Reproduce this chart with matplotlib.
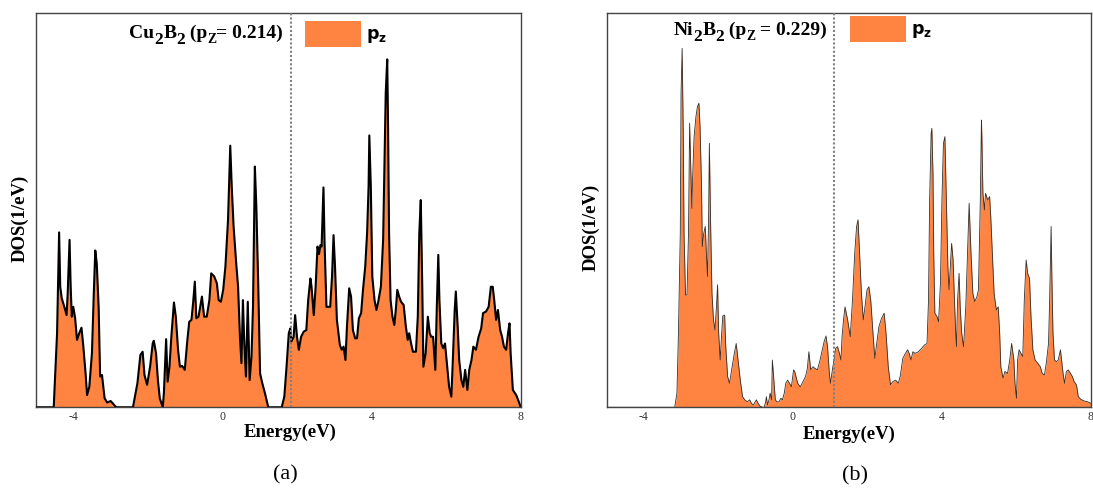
import matplotlib
matplotlib.use("Agg")
import matplotlib.pyplot as plt
from matplotlib.patches import Patch

plt.rcParams['mathtext.fontset'] = 'custom'
plt.rcParams['mathtext.rm'] = 'DejaVu Sans:bold'
plt.rcParams['mathtext.bf'] = 'DejaVu Sans:bold'
plt.rcParams['mathtext.sf'] = 'DejaVu Sans:bold'

# ---------------- data ----------------
cu_energy = [
    -5.0, -4.525, -4.435, -4.38, -4.35, -4.31, -4.24, -4.18, -4.15, -4.10,
    -4.07, -4.04, -4.00, -3.95, -3.90, -3.84, -3.78, -3.73, -3.67, -3.63,
    -3.57, -3.50, -3.45, -3.41, -3.37, -3.32, -3.28, -3.23, -3.16, -3.09,
    -3.00, -2.94, -2.85, -2.40, -2.28, -2.20, -2.14, -2.09, -2.02, -1.94,
    -1.87, -1.84, -1.78, -1.73, -1.68, -1.60, -1.57, -1.51, -1.47, -1.42,
    -1.37, -1.30, -1.25, -1.19, -1.14, -1.08, -1.01, -0.94, -0.89, -0.83,
    -0.78, -0.74, -0.70, -0.64, -0.58, -0.55, -0.49, -0.42, -0.35, -0.30,
    -0.22, -0.15, -0.10, -0.04, 0.02, 0.08, 0.15, 0.21, 0.25, 0.30,
    0.37, 0.42, 0.47, 0.51, 0.55, 0.58, 0.63, 0.68, 0.73, 0.78,
    0.82, 0.87, 0.91, 0.96, 1.01, 1.07, 1.14, 1.23, 1.59, 1.66,
    1.72, 1.78, 1.82, 1.85, 1.91, 1.95, 2.00, 2.05, 2.11, 2.18,
    2.25, 2.30, 2.36, 2.39, 2.45, 2.50, 2.55, 2.59, 2.63, 2.66,
    2.71, 2.74, 2.79, 2.84, 2.89, 2.94, 2.98, 3.02, 3.07, 3.15,
    3.20, 3.25, 3.30, 3.34, 3.40, 3.45, 3.50, 3.56, 3.61, 3.66,
    3.72, 3.77, 3.83, 3.88, 3.92, 3.94, 3.98, 4.02, 4.08, 4.13,
    4.18, 4.25, 4.31, 4.35, 4.38, 4.42, 4.44, 4.47, 4.51, 4.56,
    4.61, 4.65, 4.69, 4.74, 4.79, 4.86, 4.92, 4.97, 5.01, 5.06,
    5.11, 5.19, 5.24, 5.28, 5.32, 5.36, 5.39, 5.45, 5.51, 5.56,
    5.60, 5.65, 5.71, 5.75, 5.79, 5.82, 5.87, 5.92, 5.97, 6.03,
    6.08, 6.14, 6.18, 6.23, 6.26, 6.31, 6.35, 6.41, 6.46, 6.51,
    6.57, 6.62, 6.68, 6.73, 6.80, 6.87, 6.94, 6.99, 7.07, 7.14,
    7.20, 7.25, 7.29, 7.34, 7.39, 7.45, 7.50, 7.55, 7.61, 7.66,
    7.70, 7.73, 7.79, 7.88, 7.95, 8.0,
]
cu_dos = [
    0, 0, 0.188, 0.444, 0.306, 0.277, 0.255, 0.234, 0.289, 0.425,
    0.306, 0.230, 0.255, 0.226, 0.171, 0.188, 0.202, 0.154, 0.086, 0.031,
    0.052, 0.137, 0.289, 0.398, 0.365, 0.255, 0.078, 0.082, 0.023, 0.012,
    0.016, 0.010, 0, 0, 0.061, 0.133, 0.141, 0.082, 0.057, 0.103,
    0.162, 0.169, 0.137, 0.069, 0.023, 0, 0.036, 0.173, 0.065, 0.103,
    0.179, 0.266, 0.230, 0.146, 0.103, 0.105, 0.095, 0.171, 0.217, 0.222,
    0.272, 0.319, 0.226, 0.230, 0.264, 0.281, 0.230, 0.230, 0.272, 0.340,
    0.332, 0.315, 0.272, 0.268, 0.298, 0.357, 0.475, 0.664, 0.560, 0.459,
    0.365, 0.306, 0.179, 0.112, 0.272, 0.179, 0.078, 0.268, 0.069, 0.129,
    0.255, 0.611, 0.509, 0.315, 0.086, 0.061, 0.036, 0, 0, 0.027,
    0.103, 0.188, 0.200, 0.167, 0.179, 0.234, 0.179, 0.146, 0.179, 0.192,
    0.196, 0.272, 0.327, 0.306, 0.234, 0.306, 0.408, 0.389, 0.412, 0.408,
    0.558, 0.416, 0.255, 0.255, 0.255, 0.332, 0.437, 0.357, 0.222, 0.158,
    0.146, 0.154, 0.120, 0.205, 0.302, 0.281, 0.196, 0.175, 0.175, 0.226,
    0.239, 0.298, 0.357, 0.442, 0.560, 0.690, 0.560, 0.332, 0.272, 0.247,
    0.268, 0.306, 0.425, 0.636, 0.797, 0.883, 0.738, 0.442, 0.272, 0.230,
    0.209, 0.247, 0.298, 0.281, 0.268, 0.260, 0.205, 0.171, 0.188, 0.162,
    0.141, 0.141, 0.230, 0.442, 0.526, 0.306, 0.103, 0.137, 0.230, 0.188,
    0.179, 0.179, 0.095, 0.255, 0.387, 0.272, 0.162, 0.150, 0.162, 0.103,
    0.052, 0.027, 0.120, 0.247, 0.294, 0.205, 0.120, 0.069, 0.052, 0.095,
    0.044, 0.095, 0.120, 0.154, 0.146, 0.179, 0.200, 0.239, 0.243, 0.255,
    0.306, 0.306, 0.272, 0.222, 0.247, 0.196, 0.179, 0.154, 0.146, 0.188,
    0.213, 0.137, 0.044, 0.031, 0.014, 0,
]

ni_energy = [
    -5.0, -3.17, -3.11, -3.07, -3.02, -3.00, -2.97, -2.94, -2.92, -2.88,
    -2.84, -2.80, -2.77, -2.74, -2.71, -2.69, -2.65, -2.60, -2.56, -2.52,
    -2.49, -2.45, -2.43, -2.39, -2.35, -2.32, -2.29, -2.26, -2.24, -2.21,
    -2.17, -2.13, -2.09, -2.05, -2.02, -1.99, -1.95, -1.91, -1.88, -1.83,
    -1.80, -1.75, -1.70, -1.65, -1.57, -1.52, -1.47, -1.41, -1.35, -1.29,
    -1.22, -1.16, -1.11, -1.06, -0.98, -0.93, -0.88, -0.81, -0.77, -0.73,
    -0.71, -0.68, -0.64, -0.61, -0.57, -0.55, -0.51, -0.47, -0.43, -0.37,
    -0.32, -0.28, -0.23, -0.19, -0.14, -0.09, -0.04, 0.02, 0.05, 0.13,
    0.20, 0.27, 0.34, 0.39, 0.43, 0.48, 0.54, 0.59, 0.66, 0.73,
    0.79, 0.84, 0.89, 0.93, 0.98, 1.01, 1.06, 1.09, 1.15, 1.20,
    1.25, 1.29, 1.32, 1.36, 1.40, 1.47, 1.54, 1.60, 1.66, 1.71,
    1.75, 1.79, 1.84, 1.89, 1.93, 1.99, 2.04, 2.09, 2.15, 2.20,
    2.25, 2.31, 2.38, 2.45, 2.50, 2.56, 2.62, 2.68, 2.76, 2.83,
    2.88, 2.95, 3.02, 3.08, 3.12, 3.17, 3.22, 3.28, 3.37, 3.46,
    3.53, 3.60, 3.64, 3.67, 3.71, 3.73, 3.76, 3.78, 3.81, 3.87,
    3.91, 3.96, 4.00, 4.04, 4.08, 4.12, 4.16, 4.19, 4.23, 4.26,
    4.30, 4.33, 4.37, 4.39, 4.42, 4.46, 4.49, 4.53, 4.58, 4.64,
    4.69, 4.73, 4.78, 4.83, 4.88, 4.94, 4.98, 5.03, 5.06, 5.07,
    5.10, 5.14, 5.17, 5.23, 5.28, 5.31, 5.36, 5.40, 5.46, 5.51,
    5.55, 5.58, 5.64, 5.69, 5.76, 5.82, 5.87, 5.93, 5.96, 6.00,
    6.03, 6.07, 6.12, 6.17, 6.21, 6.26, 6.30, 6.35, 6.39, 6.44,
    6.50, 6.57, 6.64, 6.69, 6.75, 6.80, 6.86, 6.89, 6.93, 6.95,
    6.98, 7.02, 7.07, 7.12, 7.18, 7.21, 7.25, 7.29, 7.34, 7.39,
    7.45, 7.50, 7.55, 7.61, 7.66, 7.73, 7.82, 7.91, 8.0,
]
ni_dos = [
    0, 0, 0.036, 0.188, 0.442, 0.797, 0.911, 0.695, 0.442, 0.285,
    0.285, 0.442, 0.721, 0.611, 0.505, 0.580, 0.687, 0.738, 0.763, 0.772,
    0.712, 0.560, 0.408, 0.442, 0.459, 0.391, 0.332, 0.484, 0.670, 0.484,
    0.289, 0.222, 0.196, 0.255, 0.311, 0.188, 0.120, 0.188, 0.232, 0.234,
    0.154, 0.078, 0.061, 0.091, 0.137, 0.162, 0.120, 0.069, 0.027, 0.019,
    0.014, 0.019, 0.010, 0.006, 0.019, 0.010, 0.003, 0, 0, 0.014,
    0.027, 0.006, 0.019, 0.036, 0.019, 0.120, 0.069, 0.019, 0.014, 0.014,
    0.023, 0.019, 0.036, 0.061, 0.069, 0.061, 0.052, 0.095, 0.091, 0.061,
    0.052, 0.065, 0.078, 0.099, 0.141, 0.095, 0.103, 0.099, 0.095, 0.120,
    0.146, 0.167, 0.181, 0.154, 0.086, 0.061, 0.095, 0.112, 0.150, 0.154,
    0.137, 0.120, 0.179, 0.222, 0.255, 0.222, 0.179, 0.272, 0.391, 0.459,
    0.476, 0.391, 0.289, 0.222, 0.251, 0.298, 0.306, 0.272, 0.188, 0.124,
    0.162, 0.205, 0.226, 0.239, 0.188, 0.103, 0.057, 0.065, 0.069, 0.061,
    0.078, 0.124, 0.137, 0.146, 0.137, 0.120, 0.141, 0.137, 0.141, 0.150,
    0.158, 0.162, 0.272, 0.526, 0.695, 0.708, 0.594, 0.391, 0.239, 0.230,
    0.217, 0.315, 0.526, 0.670, 0.687, 0.526, 0.357, 0.298, 0.365, 0.416,
    0.374, 0.289, 0.188, 0.154, 0.272, 0.340, 0.255, 0.188, 0.154, 0.255,
    0.399, 0.518, 0.391, 0.289, 0.268, 0.281, 0.298, 0.526, 0.729, 0.695,
    0.543, 0.501, 0.543, 0.526, 0.535, 0.484, 0.374, 0.289, 0.247, 0.255,
    0.188, 0.103, 0.074, 0.091, 0.086, 0.120, 0.162, 0.120, 0.061, 0.023,
    0.120, 0.146, 0.137, 0.129, 0.272, 0.374, 0.340, 0.327, 0.230, 0.146,
    0.120, 0.112, 0.103, 0.086, 0.082, 0.112, 0.162, 0.272, 0.459, 0.332,
    0.188, 0.120, 0.116, 0.120, 0.146, 0.120, 0.086, 0.061, 0.091, 0.095,
    0.086, 0.078, 0.065, 0.057, 0.027, 0.020, 0.016, 0.014, 0.010,
]

x_ticks = [-4, 0, 4, 8]
fermi_cu = 1.83
fermi_ni = 1.11
# title pieces: (text, relative size, downward shift in px)
title_cu = [("Cu", 1.0, 0), ("2", 0.9, 6), ("B", 1.0, 0), ("2", 0.9, 6),
            (" (p", 1.0, 0), ("Z", 0.7, 5), ("= 0.214)", 1.0, 0)]
title_ni = [("Ni", 1.0, 0), ("2", 0.9, 6), ("B", 1.0, 0), ("2", 0.9, 6),
            (" (p", 1.0, 0), ("Z", 0.7, 5), (" = 0.229)", 1.0, 0)]
legend_label = r'$\mathbf{p_z}$'

# ---------------- figure ----------------
W, H = 1093, 492
fig = plt.figure(figsize=(W / 100, H / 100), dpi=100)
renderer = fig.canvas.get_renderer()
orange = '#FF8441'
serif = 'Liberation Serif'


def px(x, y):
    return x / W, 1 - y / H


def rich_text(pieces, right_px, baseline_px, size):
    widths = []
    for s, rel, dy in pieces:
        t = fig.text(0, 0, s, fontsize=size * rel, fontfamily=serif, fontweight='bold')
        widths.append(t.get_window_extent(renderer).width)
        t.remove()
    x = right_px - sum(widths)
    for (s, rel, dy), w in zip(pieces, widths):
        fx, fy = px(x, baseline_px + dy)
        fig.text(fx, fy, s, fontsize=size * rel, fontfamily=serif, fontweight='bold',
                 ha='left', va='baseline')
        x += w


panels = [
    dict(rect=[36 / W, 1 - 407.3 / H, 484.7 / W, 394 / H], E=cu_energy, D=cu_dos,
         fermi=fermi_cu, lw=1.5, lc='black', title=title_cu, title_xy=(283, 38),
         leg_xy=(305, 21), xlab=(290, 432), ylab=(20, 218), tag='(a)', tag_xy=(285, 475)),
    dict(rect=[606.5 / W, 1 - 407.3 / H, 484.5 / W, 394 / H], E=ni_energy, D=ni_dos,
         fermi=fermi_ni, lw=0.6, lc='#303030', title=title_ni, title_xy=(827, 35),
         leg_xy=(850, 16), xlab=(849, 434), ylab=(591, 227), tag='(b)', tag_xy=(855, 476)),
]

for p in panels:
    ax = fig.add_axes(p['rect'])
    ax.fill_between(p['E'], 0, p['D'], color=orange, linewidth=0, zorder=2)
    ax.plot(p['E'], p['D'], color=p['lc'], linewidth=p['lw'], zorder=3)
    ax.axvline(p['fermi'], color='#808080', linestyle=(0, (1, 1)), linewidth=1.5, zorder=4)
    ax.set_xlim(-5, 8)
    ax.set_ylim(0, 1)
    ax.set_xticks(x_ticks)
    ax.set_xticklabels([str(t) for t in x_ticks], fontfamily=serif, fontsize=8.5, color='#333333')
    ax.tick_params(axis='x', length=0, pad=3)
    ax.set_yticks([])
    for s in ax.spines.values():
        s.set_color('#444444')
        s.set_linewidth(1.0)

    rich_text(p['title'], p['title_xy'][0], p['title_xy'][1], 14)
    lx, ly = px(*p['leg_xy'])
    fig.legend(handles=[Patch(facecolor=orange, edgecolor='none', label=legend_label)],
               loc='upper left', bbox_to_anchor=(lx, ly), bbox_transform=fig.transFigure,
               frameon=False, borderpad=0, borderaxespad=0, fontsize=12.5,
               handlelength=3.2, handleheight=1.9, handletextpad=0.3)
    xx, xy = px(*p['xlab'])
    fig.text(xx, xy, 'Energy(eV)', ha='center', va='center', fontsize=13.5,
             fontfamily=serif, fontweight='bold')
    yx, yy = px(*p['ylab'])
    fig.text(yx, yy, 'DOS(1/eV)', ha='center', va='center', rotation=90, fontsize=13.5,
             fontfamily=serif, fontweight='bold')
    gx, gy = px(*p['tag_xy'])
    fig.text(gx, gy, p['tag'], ha='center', va='center', fontsize=16, fontfamily=serif)

fig.savefig('out.png', dpi=100)
